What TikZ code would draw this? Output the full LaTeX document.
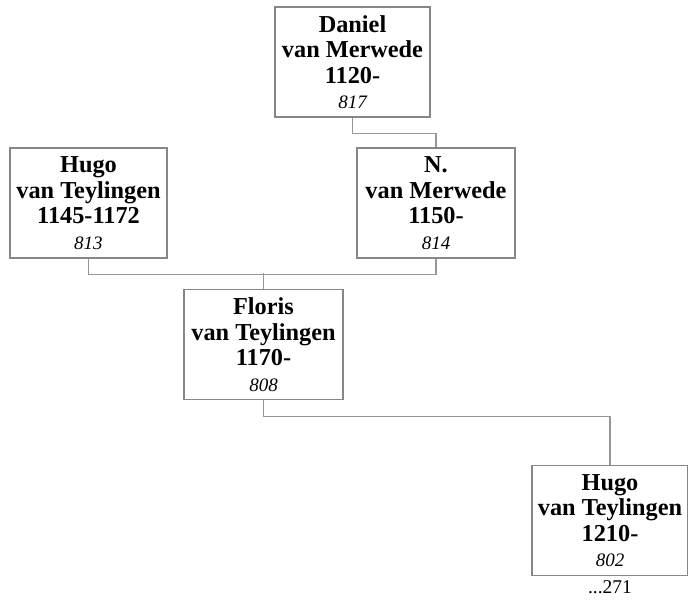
\documentclass[tikz,border=0pt]{standalone}
\usepackage{fontspec}
\setmainfont{Liberation Serif}
\usepackage{tikz}
\usetikzlibrary{positioning}
\definecolor{boxgray}{RGB}{135,135,135}
\definecolor{linegray}{RGB}{150,150,150}
\newcommand{\pnum}[1]{{\fontsize{19}{25.5}\selectfont\mdseries\itshape #1}}

\begin{document}
\begin{tikzpicture}[
    x=1pt, y=-1pt,
    person/.style={rectangle, draw=boxgray, line width=1.2pt, fill=white,
                   font=\fontsize{24.3}{25.5}\selectfont\bfseries,
                   minimum height=110pt, inner sep=0pt, align=center},
    link/.style={draw=linegray, line width=1.1pt}
  ]
    \path[use as bounding box] (0,0) rectangle (688,604);

    \node[person, minimum width=155pt] (dan)    at (352.5,62)  {Daniel\\van Merwede\\1120-\\\pnum{817}};
    \node[person, minimum width=157pt] (hugoA)  at (88.5,203)  {Hugo\\van Teylingen\\1145-1172\\\pnum{813}};
    \node[person, minimum width=158pt] (nmer)   at (436,203)   {N.\\van Merwede\\1150-\\\pnum{814}};
    \node[person, minimum width=159pt] (floris) at (263.5,344.5) {Floris\\van Teylingen\\1170-\\\pnum{808}};
    \node[person, minimum width=156pt] (hugoB)  at (610,520.5) {Hugo\\van Teylingen\\1210-\\\pnum{802}};
    \node[font=\fontsize{19.5}{20}\selectfont, below=1pt of hugoB] (more) {...271};

    \draw[link] (dan.south) -- ++(0,16) -| (nmer.north);
    \draw[link] (hugoA.south) -- ++(0,16) -| (nmer.south);
    \draw[link] (floris.north) -- ++(0,-16);
    \draw[link] (floris.south) -- ++(0,16) -| (hugoB.north);
  \end{tikzpicture}
\end{document}
